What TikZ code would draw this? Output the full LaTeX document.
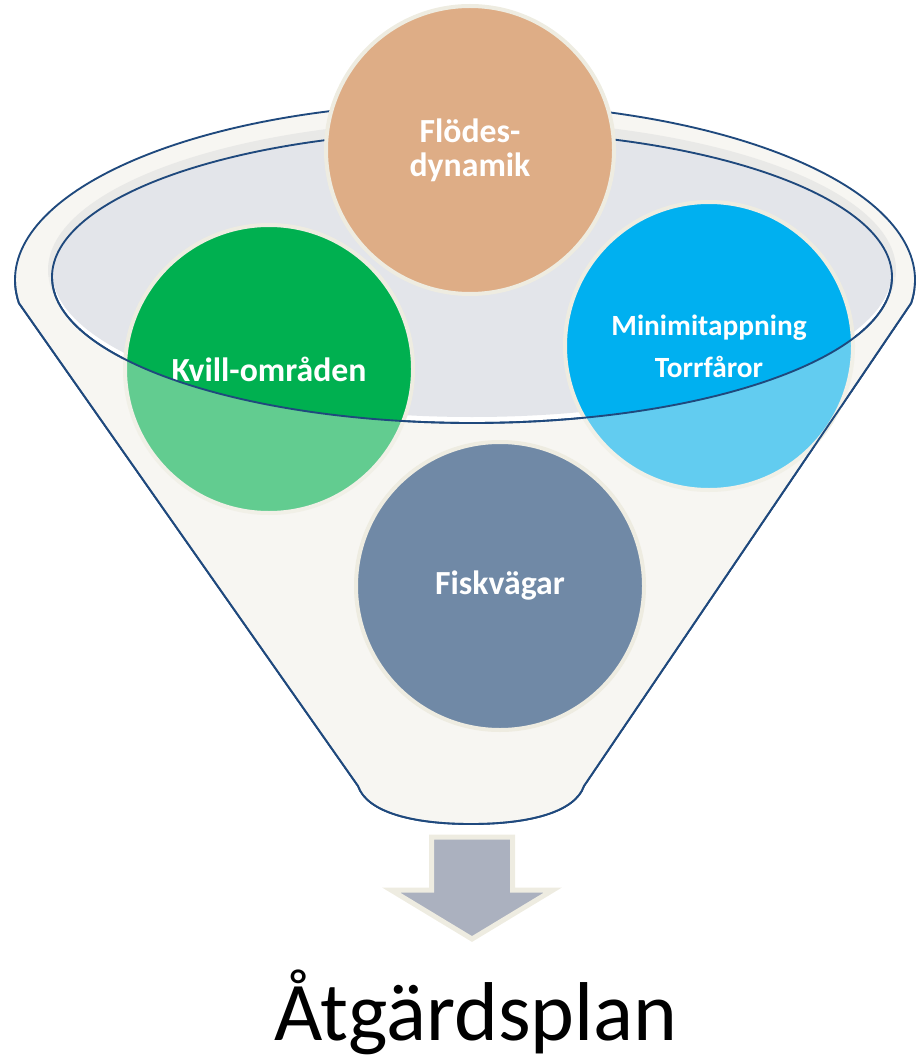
\documentclass[tikz,border=0pt]{standalone}
\usepackage{fontspec}
\setmainfont{Carlito}
\definecolor{edgecol}{HTML}{1F497D}
\definecolor{rimcol}{HTML}{F7F6F2}
\definecolor{shadecol}{HTML}{E9E9E7}
\definecolor{bowlcol}{HTML}{E3E5EA}
\definecolor{ringcol}{HTML}{EEECE1}
\definecolor{flodcol}{HTML}{DEAD86}
\definecolor{kvillcol}{HTML}{00B050}
\definecolor{minicol}{HTML}{00B0F0}
\definecolor{fiskcol}{HTML}{7089A6}
\definecolor{arrowcol}{HTML}{ABB1BF}

\begin{document}
\begin{tikzpicture}[x=0.75pt,y=-0.75pt,
    outline/.style={edgecol,line width=1.4pt},
    bubble/.style={circle,draw=ringcol,line width=3pt,minimum size=216pt,inner sep=0pt,
      text=white,align=center,font=\bfseries\fontsize{25.3}{25.5}\selectfont}
  ]
  \useasboundingbox (0,0) rectangle (915,1059);
  \def\funnel{(18.9,303.1) arc[start angle=172.5,end angle=367.5,x radius=450,y radius=177]
    -- (584,786) .. controls (575,812) and (530,824) .. (471,824)
    .. controls (412,824) and (367,812) .. (358,786) -- cycle}
  % funnel body and bowl
  \fill[rimcol] \funnel;
  \draw[outline] \funnel;
  \fill[shadecol] (472,270) ellipse[x radius=424,y radius=150];
  \fill[white] (472,277) ellipse[x radius=420,y radius=146];
  \begin{scope}
    \clip (472,277) ellipse[x radius=420,y radius=146];
    \fill[bowlcol] (472,271) ellipse[x radius=420,y radius=146];
  \end{scope}
  \draw[outline] (472,277) ellipse[x radius=420,y radius=146];
  % bubbles
  \node[bubble,fill=flodcol] (flod) at (470,150) {Flödes-\\dynamik};
  \node[bubble,fill=kvillcol] (kvill) at (269,369) {Kvill-områden};
  \node[bubble,fill=minicol,font=\bfseries\fontsize{22}{31.5}\selectfont] (mini) at (709,346) {Minimitappning\\Torrfåror};
  % front of the funnel
  \begin{scope}
    \clip (0,277) rectangle (915,1059);
    \fill[rimcol,opacity=0.4,even odd rule] \funnel (472,277) ellipse[x radius=420,y radius=146];
    \draw[outline] \funnel;
    \draw[outline] (472,277) ellipse[x radius=420,y radius=146];
  \end{scope}
  \node[bubble,fill=fiskcol] (fisk) at (500,586) {Fiskvägar};
  % arrow
  \draw[ringcol,line width=3.75pt,fill=arrowcol] (431.5,837) -- (512.5,837) -- (512.5,890)
    -- (553,890) -- (472,939) -- (391,890) -- (431.5,890) -- cycle;
  \node[anchor=base,inner sep=0pt,font=\fontsize{62.6}{70}\selectfont] (plan) at (476,1040) {Åtgärdsplan};
\end{tikzpicture}
\end{document}
